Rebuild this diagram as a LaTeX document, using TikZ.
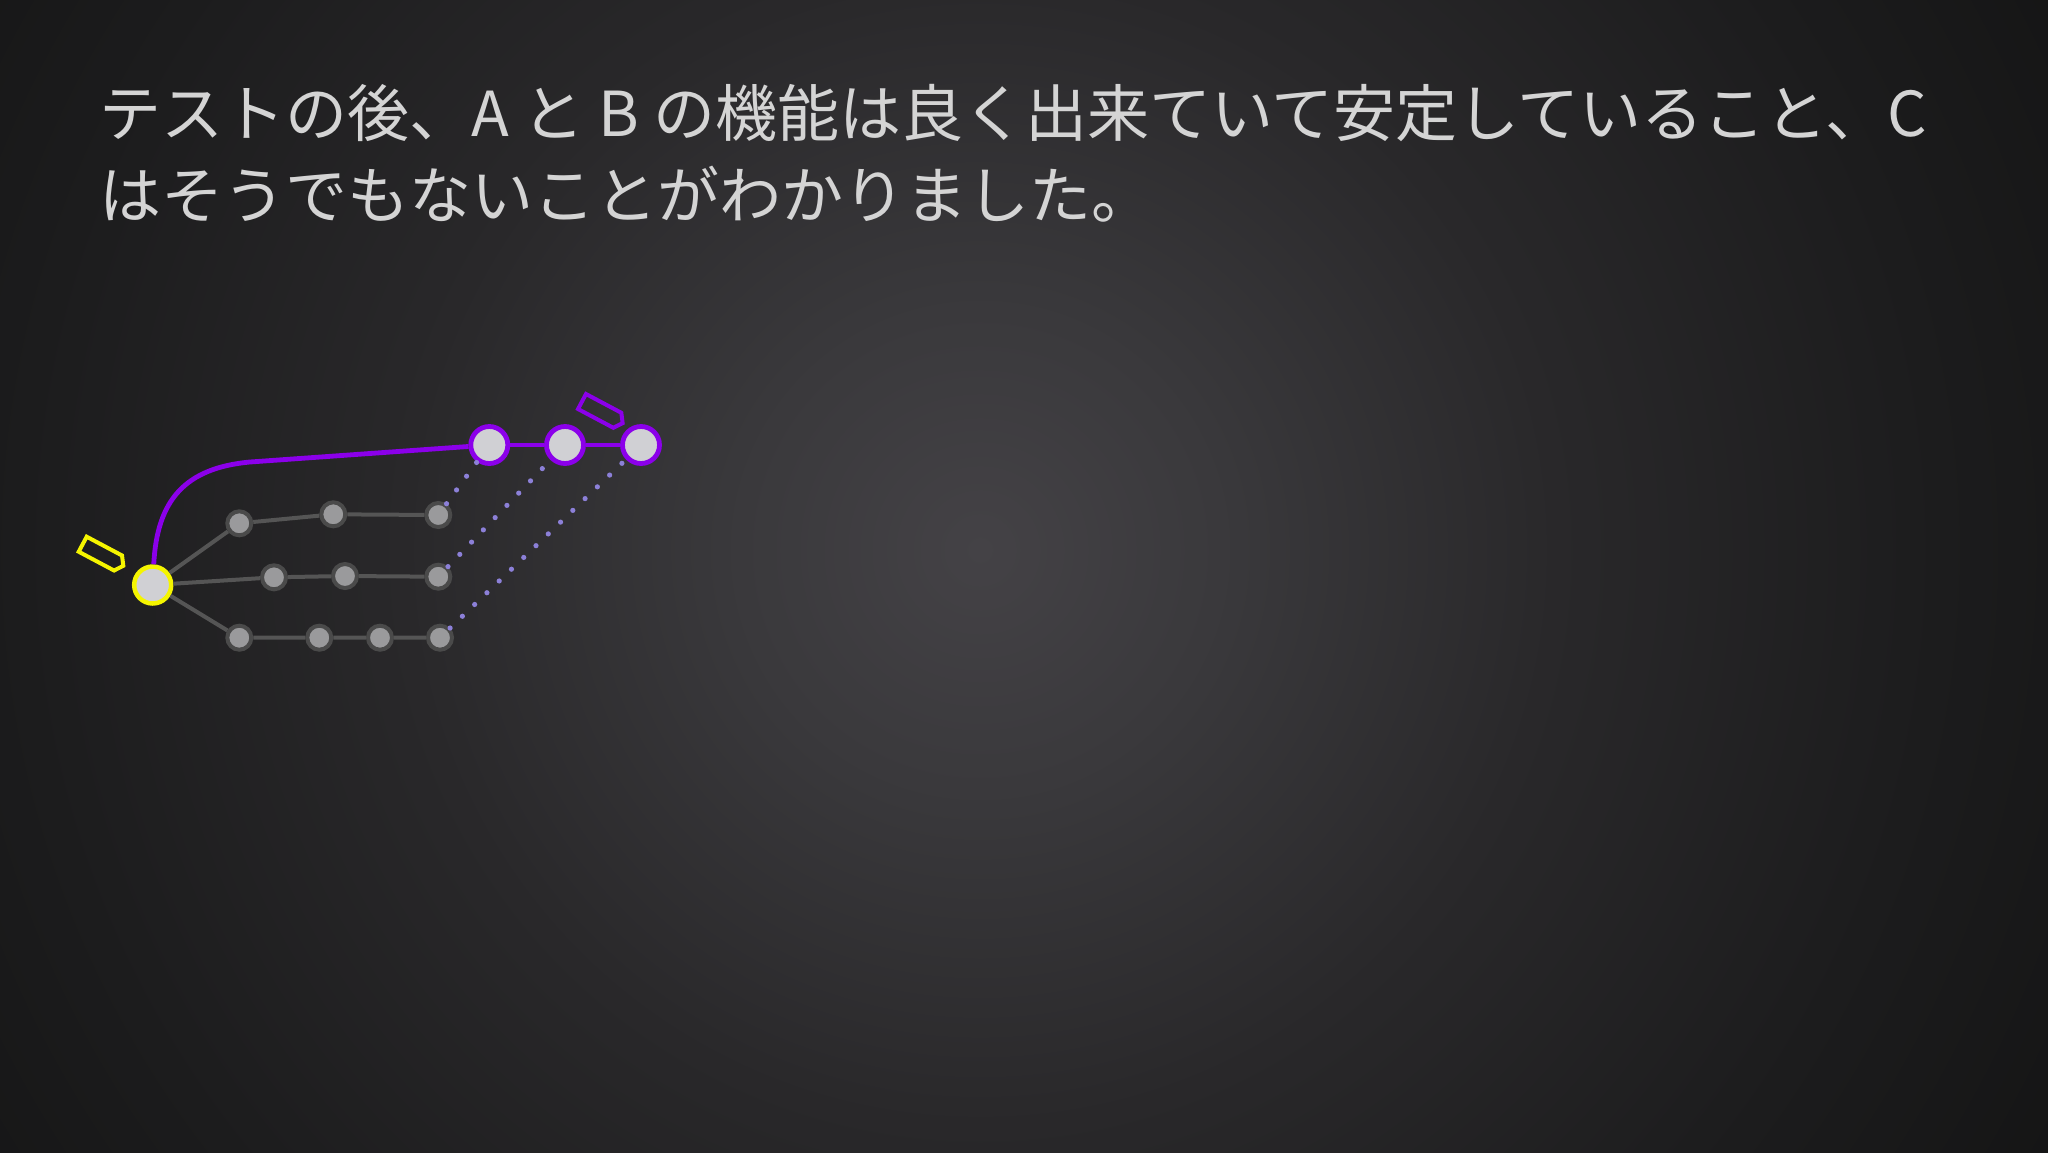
\documentclass[tikz,border=0pt]{standalone}
\usepackage{fontspec}
\usepackage{xcolor}
\usepackage{tikz}
\usetikzlibrary{calc}
\newfontfamily\jpfont{Noto Sans CJK JP}
\definecolor{text}{HTML}{D4D4D4}
\definecolor{yel}{HTML}{F5F500}
\definecolor{vio}{HTML}{8B00EA}
\definecolor{pale}{HTML}{D0D0D4}
\definecolor{ash}{HTML}{9A9A9C}
\definecolor{rim}{HTML}{4A4A4A}
\definecolor{wire}{HTML}{555555}
\definecolor{lav}{HTML}{8C80D8}
\definecolor{bg0}{HTML}{444246}
\definecolor{bg1}{HTML}{3A393C}
\definecolor{bg2}{HTML}{29282A}
\definecolor{bg3}{HTML}{1C1C1D}
\definecolor{bg4}{HTML}{121212}
\definecolor{bg5}{HTML}{0C0C0C}
\pgfdeclareradialshading{glow}{\pgfpoint{0bp}{0bp}}{color(0bp)=(bg0); color(5bp)=(bg1); color(12bp)=(bg2); color(20bp)=(bg3); color(28bp)=(bg4); color(50bp)=(bg5)}
\tikzset{
  basec/.style={circle, draw=yel, fill=pale, line width=2.25pt, minimum size=18.5pt, inner sep=0pt},
  newc/.style={circle, draw=vio, fill=pale, line width=2.4pt, minimum size=18.5pt, inner sep=0pt},
  oldc/.style={circle, draw=rim, fill=ash, line width=2pt, minimum size=12pt, inner sep=0pt},
  link/.style={draw=wire, line width=2pt},
  branch/.style={draw=vio, line width=2.4pt},
  moved/.style={draw=lav, line width=2.6pt, line cap=round, dash pattern=on 0pt off 8.5pt},
  flag/.pic={\draw[line width=2pt, line join=miter, pic actions] (0,0) -- (40,0) -- (46,8.5) -- (40,17) -- (0,17) -- cycle;},
  lab/.style={text=text, font=\jpfont\fontsize{31pt}{41pt}\selectfont, inner sep=0pt},
}
\begin{document}
\begin{tikzpicture}[x=0.5pt, y=-0.5pt]
  \useasboundingbox (0,0) rectangle (2048,1152);
  \begin{scope}
    \clip (0,0) rectangle (2048,1152);
    \shade[shading=glow] (-220,-650) rectangle (2180,1750);
  \end{scope}

  \node[lab, anchor=base west] (line1) at (99,136) {テストの後、A と B の機能は良く出来ていて安定していること、C};
  \node[lab, anchor=base west] (line2) at (99,218) {はそうでもないことがわかりました。};

  \node[basec] (root) at (152.7,585) {};
  \node[oldc] (a1) at (239.3,523.3) {};
  \node[oldc] (a2) at (333.3,514.3) {};
  \node[oldc] (a3) at (438.3,515) {};
  \node[oldc] (b1) at (274,577.3) {};
  \node[oldc] (b2) at (345,576) {};
  \node[oldc] (b3) at (438.3,576.7) {};
  \node[oldc] (c1) at (239.3,637.7) {};
  \node[oldc] (c2) at (319.3,637.7) {};
  \node[oldc] (c3) at (380,637.7) {};
  \node[oldc] (c4) at (440,637.7) {};
  \node[newc] (p1) at (489.3,445) {};
  \node[newc] (p2) at (565,445) {};
  \node[newc] (p3) at (641,445) {};

  \draw[link] (root) -- (a1) -- (a2) -- (a3);
  \draw[link] (root) -- (b1) -- (b2) -- (b3);
  \draw[link] (root) -- (c1) -- (c2) -- (c3) -- (c4);
  \draw[moved] (a3) -- (p1);
  \draw[moved] (b3) -- (p2);
  \draw[moved] (c4) -- (p3);
  \draw[branch] (root) .. controls (157,500) and (185,468) .. (250,462) -- (p1);
  \draw[branch] (p1) -- (p2) -- (p3);

  \pic[draw=yel, rotate=-28] at (86.7,536.7) {flag};
  \pic[draw=vio, rotate=-28] at (586,394) {flag};
\end{tikzpicture}
\end{document}
